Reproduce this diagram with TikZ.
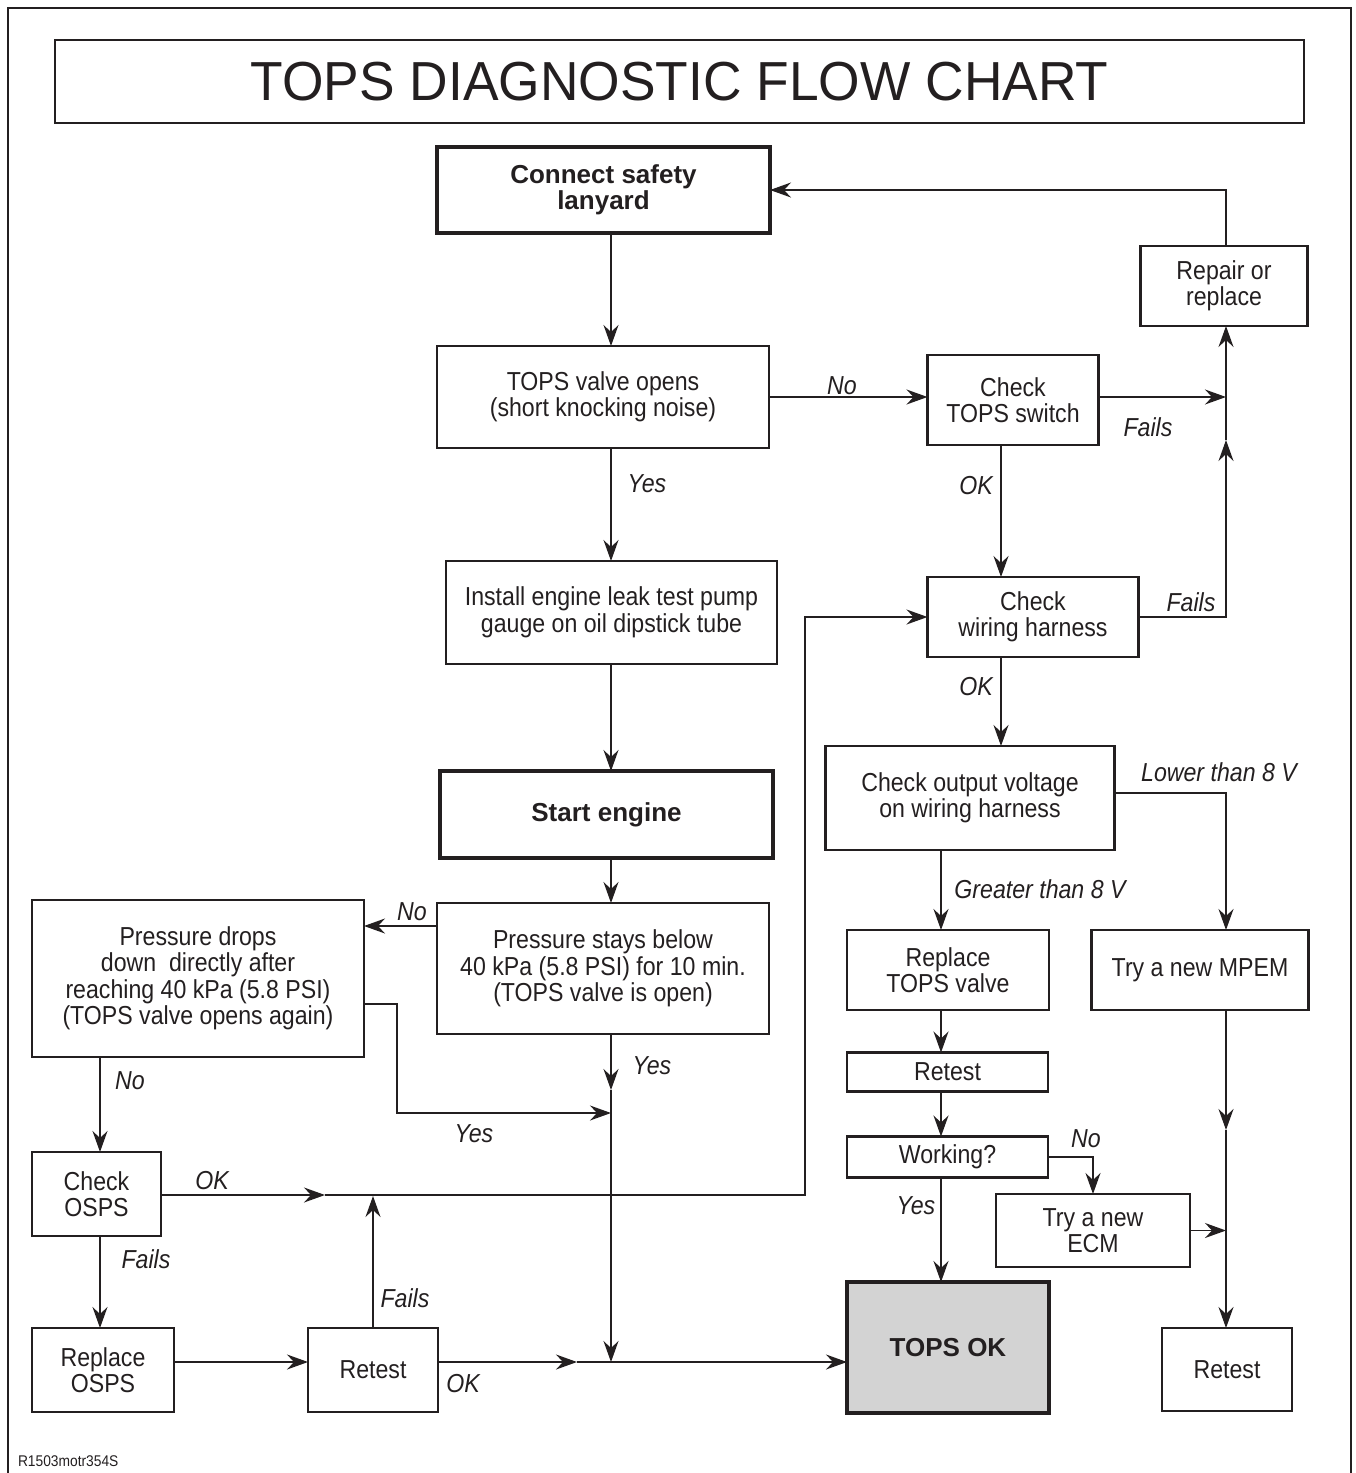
\documentclass[tikz,border=0pt]{standalone}
\usepackage{fontspec}
\setmainfont{Liberation Sans}
\newfontfamily\condfont{Liberation Sans}[FakeStretch=0.89]
\newfontfamily\titlefont{Liberation Sans}[FakeStretch=0.97]
\usetikzlibrary{arrows.meta}
\definecolor{ink}{RGB}{35,31,32}
\definecolor{okgray}{RGB}{211,211,211}
\begin{document}
\begin{tikzpicture}[x=1pt,y=-1pt,
  every node/.style={inner sep=0pt, outer sep=0pt, text=ink},
  box/.style={draw=ink, line width=2.7pt, align=center, font=\condfont\fontsize{26}{26.5}\selectfont},
  heavybox/.style={draw=ink, line width=4.6pt, align=center, font=\bfseries\fontsize{26}{27}\selectfont},
  lbl/.style={font=\condfont\itshape\fontsize{26}{26.5}\selectfont},
  conn/.style={draw=ink, line width=1.4pt},
  arr/.style={conn, -{Stealth[length=21pt,width=15pt,inset=7pt]}},
]
\useasboundingbox (0,0) rectangle (1356,1473);
% outer frame
\draw[ink, line width=2.5pt] (8,1473) -- (8,8) -- (1351,8) -- (1351,1473);
% title
\node[draw=ink, line width=2.7pt, minimum width=1249pt, minimum height=83pt,
      font=\titlefont\fontsize{55}{60}\selectfont] (title) at (679.5,81.5) {TOPS DIAGNOSTIC FLOW CHART};

% boxes
\node[heavybox, minimum width=333pt, minimum height=86pt] (lanyard) at (603.5,190) {\raisebox{-3pt}{\shortstack{Connect safety\\[-1pt]lanyard}}};
\node[box, minimum width=332pt, minimum height=102pt] (valve) at (603,397) {TOPS valve opens\\(short knocking noise)};
\node[box, minimum width=331pt, minimum height=103pt] (install) at (611.5,612.5) {Install engine leak test pump\\gauge on oil dipstick tube};
\node[heavybox, minimum width=333pt, minimum height=87pt] (start) at (606.5,814.5) {Start engine};
\node[box, minimum width=332pt, minimum height=131pt] (stays) at (603,968.5) {Pressure stays below\\40 kPa (5.8 PSI) for 10 min.\\(TOPS valve is open)};
\node[box, minimum width=332pt, minimum height=157pt] (drops) at (198,978.5) {Pressure drops\\down~ directly after\\reaching 40 kPa (5.8 PSI)\\(TOPS valve opens again)};
\node[box, minimum width=129pt, minimum height=84pt] (osps) at (96.5,1194) {Check\\OSPS};
\node[box, minimum width=142pt, minimum height=84pt] (replosps) at (103,1370) {Replace\\OSPS};
\node[box, minimum width=130pt, minimum height=84pt] (retestL) at (373,1370) {Retest};
\node[box, minimum width=171pt, minimum height=90pt] (switch) at (1013,400) {Check\\TOPS switch};
\node[box, minimum width=167pt, minimum height=80pt] (repair) at (1224,286) {Repair or\\replace};
\node[box, minimum width=211pt, minimum height=80pt] (harness) at (1033,617) {Check\\wiring harness};
\node[box, minimum width=289pt, minimum height=104pt] (voltage) at (970,798) {Check output voltage\\on wiring harness};
\node[box, minimum width=202pt, minimum height=80pt] (replvalve) at (948,970) {Replace\\TOPS valve};
\node[box, minimum width=217pt, minimum height=80pt] (mpem) at (1200,970) {Try a new MPEM};
\node[box, minimum width=201pt, minimum height=39pt] (retestM) at (947.5,1072) {Retest};
\node[box, minimum width=201pt, minimum height=41pt] (working) at (947.5,1157) {Working?};
\node[box, minimum width=194pt, minimum height=73pt] (ecm) at (1093,1230.5) {Try a new\\ECM};
\node[heavybox, fill=okgray, minimum width=202pt, minimum height=131pt] (topsok) at (948,1347.5) {TOPS OK};
\node[box, minimum width=130pt, minimum height=83pt] (retestR) at (1227,1369.5) {Retest};

% junction coordinates
\coordinate (cM) at (611,0);
\coordinate (cR) at (1226,0);
\coordinate (cL) at (100,0);
\coordinate (cH) at (1001,0);
\coordinate (cV) at (941,0);
\coordinate (jSw) at (1226,397);
\coordinate (jUp) at (1226,440);
\coordinate (jY) at (611,1113);
\coordinate (jYes) at (611,1090);
\coordinate (jB) at (611,1362);
\coordinate (jOk) at (577,1362);
\coordinate (jO1) at (325,1195);
\coordinate (jO2) at (805,1195);
\coordinate (jF) at (373,1196);
\coordinate (jM) at (1226,1130);

% connectors
\draw[arr] (lanyard.south -| cM) -- (valve.north -| cM);
\draw[arr] (valve.east) -- (valve.east -| switch.west);
\draw[arr] (switch.east |- jSw) -- (jSw);
\draw[arr] (harness.east) -| (jUp);
\draw[arr] (jUp) -- (repair.south -| cR);
\draw[arr] (repair.north -| cR) |- (lanyard.east);
\draw[arr] (valve.south -| cM) -- (install.north -| cM);
\draw[arr] (install.south -| cM) -- (start.north -| cM);
\draw[arr] (start.south -| cM) -- (stays.north -| cM);
\draw[arr] (stays.west |- 0,926) -- (drops.east |- 0,926);
\draw[arr] (drops.east |- 0,1004) -- (397,1004) -- (397,1113) -- (jY);
\draw[arr] (stays.south -| cM) -- (jYes);
\draw[arr] (jYes) -- (jB);
\draw[arr] (retestL.east |- jOk) -- (jOk);
\draw[arr] (jOk) -- (topsok.west |- jOk);
\draw[arr] (drops.south -| cL) -- (osps.north -| cL);
\draw[arr] (osps.east |- jO1) -- (jO1);
\draw[arr] (jO1) -- (jO2) |- (harness.west);
\draw[arr] (retestL.north) -- (jF);
\draw[arr] (osps.south -| cL) -- (replosps.north -| cL);
\draw[arr] (replosps.east |- jOk) -- (retestL.west |- jOk);
\draw[arr] (switch.south -| cH) -- (harness.north -| cH);
\draw[arr] (harness.south -| cH) -- (voltage.north -| cH);
\draw[arr] (voltage.east |- 0,793) -| (mpem.north -| cR);
\draw[arr] (voltage.south -| cV) -- (replvalve.north -| cV);
\draw[arr] (replvalve.south -| cV) -- (retestM.north -| cV);
\draw[arr] (retestM.south -| cV) -- (working.north -| cV);
\draw[arr] (working.east) -| (ecm.north);
\draw[arr] (working.south -| cV) -- (topsok.north -| cV);
\draw[arr] (ecm.east) -- (ecm.east -| cR);
\draw[arr] (mpem.south -| cR) -- (jM);
\draw[arr] (jM) -- (retestR.north -| cR);

% labels
\node[lbl] (lNo1) at (842,386) {No};
\node[lbl] (lFails1) at (1148,427) {Fails};
\node[lbl] (lYes1) at (647,484) {Yes};
\node[lbl] (lOk1) at (976,486) {OK};
\node[lbl] (lFails2) at (1191,602) {Fails};
\node[lbl] (lOk2) at (976,687) {OK};
\node[lbl] (lLower) at (1219,772) {Lower than 8 V};
\node[lbl] (lGreater) at (1040,889) {Greater than 8 V};
\node[lbl] (lNo2) at (412,912) {No};
\node[lbl] (lYes2) at (652,1066) {Yes};
\node[lbl] (lNo3) at (130,1081) {No};
\node[lbl] (lYes3) at (474,1134) {Yes};
\node[lbl] (lNo4) at (1086,1139) {No};
\node[lbl] (lOk3) at (212,1181) {OK};
\node[lbl] (lYes4) at (916,1206) {Yes};
\node[lbl] (lFails3) at (146,1259) {Fails};
\node[lbl] (lFails4) at (405,1298) {Fails};
\node[lbl] (lOk4) at (463,1384) {OK};

\node[anchor=west, font=\condfont\fontsize{15.5}{15.5}\selectfont] (code) at (18,1461) {R1503motr354S};
\end{tikzpicture}
\end{document}
